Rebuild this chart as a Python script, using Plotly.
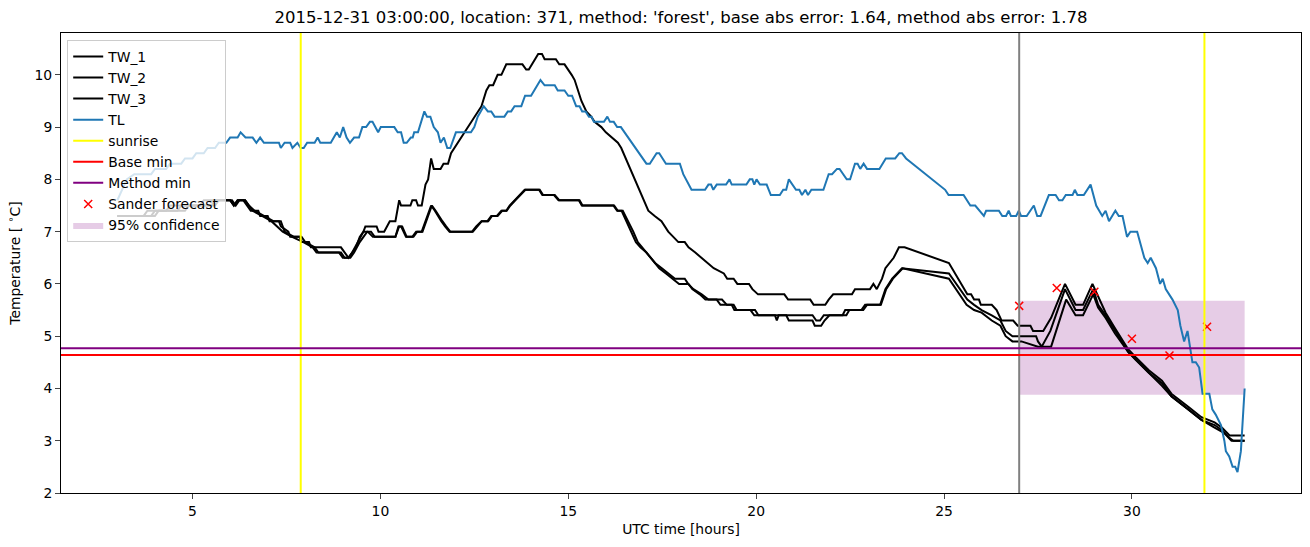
import plotly.graph_objects as go

# ---------------- data ----------------
TITLE = "2015-12-31 03:00:00, location: 371, method: 'forest', base abs error: 1.64, method abs error: 1.78"

TW1_HOURS = [3.0, 3.7, 3.8, 4.3, 4.4, 5.2, 5.3, 6.0, 6.1, 6.2, 6.35, 6.45, 6.55, 6.75, 6.8, 7.0, 7.05, 7.3, 7.35,
             7.55, 7.6, 7.85, 7.9, 8.1, 8.15, 8.95, 9.05, 9.15, 9.25, 9.35, 9.45, 9.55, 9.6, 9.9, 9.95, 10.1, 10.25,
             10.4, 10.5, 10.55, 10.8, 10.85, 10.95, 11.0, 11.1, 11.2, 11.27, 11.35, 11.42, 11.6, 11.68, 11.8, 11.88,
             11.97, 12.24, 12.51, 12.69, 12.82, 12.9, 13.0, 13.12, 13.22, 13.35, 13.78, 13.88, 13.95, 14.2, 14.3,
             14.37, 14.67, 14.76, 14.9, 15.0, 15.09, 15.17, 15.26, 15.35, 15.48, 15.61, 15.7, 15.88, 16.0, 16.15,
             16.32, 16.41, 16.59, 16.77, 16.95, 17.13, 17.3, 17.48, 17.66, 17.8, 17.93, 18.1, 18.2, 18.38, 18.55,
             18.69, 18.87, 19.14, 19.23, 19.4, 19.5, 19.81, 19.9, 20.05, 20.75, 20.85, 21.44, 21.53, 21.84, 21.93,
             22.05, 22.55, 22.63, 23.03, 23.12, 23.21, 23.35, 23.44, 23.66, 23.8, 23.95, 25.13, 25.53, 25.62, 25.72,
             25.8, 25.93, 25.98, 26.27, 26.4, 26.53, 26.84, 26.96, 27.3, 27.37, 27.64, 27.85, 28.07, 28.22, 28.5,
             28.7, 28.95, 29.1, 29.3, 29.55, 29.9, 30.1, 30.45, 30.8, 31.05, 31.5, 31.85, 32.2, 32.4, 32.6, 33.0]
TW1_VALUES = [7.3, 7.3, 7.4, 7.4, 7.5, 7.5, 7.6, 7.6, 7.5, 7.6, 7.6, 7.5, 7.4, 7.4, 7.3, 7.3, 7.2, 7.2, 7.1,
              7.0, 6.9, 6.9, 6.8, 6.8, 6.7, 6.7, 6.6, 6.5, 6.6, 6.7, 6.9, 7.0, 7.1, 7.1, 7.0, 7.0, 7.2,
              7.2, 7.6, 7.5, 7.5, 7.6, 7.6, 7.5, 7.5, 7.9, 8.0, 8.4, 8.2, 8.2, 8.3, 8.3, 8.5,
              8.6, 8.9, 9.2, 9.4, 9.7, 9.8, 9.8, 10.0, 10.0, 10.2, 10.2, 10.1, 10.1, 10.4, 10.4,
              10.3, 10.3, 10.2, 10.2, 10.1, 10.0, 9.9, 9.7, 9.5, 9.3, 9.2, 9.1, 9.0, 8.9, 8.8,
              8.7, 8.6, 8.3, 8.0, 7.7, 7.4, 7.3, 7.2, 7.0, 6.9, 6.8, 6.8, 6.7, 6.6, 6.5,
              6.4, 6.3, 6.2, 6.1, 6.1, 6.0, 6.0, 5.9, 5.8, 5.8, 5.7, 5.7, 5.6, 5.6, 5.7,
              5.8, 5.8, 5.9, 5.9, 6.0, 5.9, 6.1, 6.3, 6.5, 6.7, 6.7, 6.4, 5.9, 5.8, 5.8,
              5.7, 5.7, 5.6, 5.6, 5.5, 5.3, 5.3, 5.2, 5.2, 5.1, 5.1, 5.35, 5.75, 6.0, 5.6,
              5.6, 6.0, 5.75, 5.45, 5.15, 4.75, 4.6, 4.35, 4.15, 3.9, 3.65, 3.45, 3.35, 3.25, 3.1, 3.1]

TW2_HOURS = [3.0, 3.9, 4.0, 4.6, 4.7, 5.5, 5.6, 6.0, 6.1, 6.2, 6.4, 6.5, 6.6, 6.85, 7.1, 7.4, 7.65, 7.95, 8.2,
             8.3, 8.9, 9.0, 9.15, 9.25, 9.39, 9.55, 9.66, 9.8, 10.4, 10.48, 10.55, 10.68, 10.85, 10.95, 11.1, 11.2,
             11.35, 11.45, 11.53, 11.62, 11.72, 11.84, 12.44, 12.55, 12.69, 12.85, 12.95, 13.1, 13.22, 13.35, 13.44,
             13.57, 13.7, 13.84, 14.24, 14.33, 14.64, 14.76, 15.3, 15.38, 16.2, 16.3, 16.45, 16.6, 16.73, 16.85,
             16.96, 17.13, 17.31, 17.49, 17.66, 17.84, 18.1, 18.19, 18.33, 18.55, 18.73, 19.09, 19.22, 19.4, 19.48,
             19.97, 20.06, 21.5, 21.6, 21.7, 21.8, 22.3, 22.37, 22.8, 22.9, 23.3, 23.44, 23.62, 23.75, 23.88, 25.13,
             25.62, 25.8, 26.0, 26.27, 26.5, 26.64, 26.82, 27.06, 27.45, 27.5, 27.6, 27.83, 28.22, 28.5, 28.7,
             28.97, 29.1, 29.3, 29.55, 29.9, 30.1, 30.45, 30.8, 31.05, 31.5, 31.85, 32.2, 32.4, 32.6, 32.7, 33.0]
TW2_VALUES = [7.3, 7.3, 7.4, 7.4, 7.5, 7.5, 7.6, 7.6, 7.5, 7.6, 7.6, 7.5, 7.4, 7.3, 7.2, 7.0, 6.9, 6.8, 6.7,
              6.6, 6.6, 6.5, 6.5, 6.6, 6.8, 7.0, 7.0, 6.9, 6.9, 7.1, 7.1, 6.9, 6.9, 7.0, 7.0, 7.2,
              7.5, 7.4, 7.3, 7.2, 7.1, 7.0, 7.0, 7.1, 7.2, 7.2, 7.3, 7.3, 7.4, 7.4, 7.5,
              7.6, 7.7, 7.8, 7.8, 7.7, 7.7, 7.6, 7.6, 7.5, 7.5, 7.4, 7.4, 7.2, 7.0, 6.8,
              6.7, 6.55, 6.4, 6.3, 6.2, 6.1, 6.1, 6.0, 5.9, 5.8, 5.7, 5.7, 5.6, 5.6, 5.5,
              5.5, 5.4, 5.4, 5.3, 5.3, 5.4, 5.4, 5.5, 5.5, 5.6, 5.6, 5.9, 6.1, 6.2, 6.3, 6.2,
              5.7, 5.6, 5.5, 5.4, 5.3, 5.1, 5.0, 5.0, 5.0, 4.9, 4.8, 5.1, 5.9, 5.5, 5.5,
              5.9, 5.6, 5.4, 5.1, 4.7, 4.55, 4.3, 4.1, 3.85, 3.6, 3.4, 3.3, 3.2, 3.05, 3.0, 3.0]

TW3_HOURS = [3.0, 4.0, 4.1, 4.8, 4.9, 5.6, 5.7, 6.05, 6.15, 6.25, 6.4, 6.5, 6.65, 6.9, 7.15, 7.35, 7.45, 7.7, 7.9,
             8.0, 8.25, 8.35, 8.95, 9.05, 9.2, 9.3, 9.45, 9.55, 9.65, 9.75, 9.85, 10.4, 10.5, 10.58, 10.7, 10.88,
             10.98, 11.12, 11.22, 11.37, 11.47, 11.55, 11.65, 11.75, 11.86, 12.46, 12.57, 12.7, 12.87, 12.97, 13.12,
             13.24, 13.36, 13.46, 13.59, 13.72, 13.86, 14.22, 14.31, 14.62, 14.74, 15.28, 15.36, 16.22, 16.32, 16.42,
             16.55, 16.68, 16.8, 16.92, 17.08, 17.25, 17.42, 17.6, 17.78, 17.95, 18.2, 18.3, 18.5, 18.65, 18.95,
             19.05, 19.35, 19.42, 19.85, 19.95, 20.5, 20.55, 20.6, 20.8, 20.87, 21.5, 21.56, 21.73, 21.82, 21.95,
             22.4, 22.48, 22.85, 22.95, 23.32, 23.46, 23.64, 23.78, 23.9, 25.13, 25.6, 25.8, 26.0, 26.27, 26.5,
             26.64, 26.82, 27.06, 27.5, 27.85, 28.25, 28.5, 28.7, 28.97, 29.1, 29.3, 29.55, 29.9, 30.1, 30.45, 30.8,
             31.05, 31.5, 31.85, 32.2, 32.45, 32.65, 33.0]
TW3_VALUES = [7.3, 7.3, 7.4, 7.4, 7.5, 7.5, 7.6, 7.6, 7.5, 7.6, 7.6, 7.5, 7.4, 7.3, 7.2, 7.2, 7.0, 6.9, 6.9,
              6.8, 6.7, 6.6, 6.6, 6.5, 6.5, 6.6, 6.8, 6.9, 7.0, 7.0, 6.9, 6.9, 7.1, 7.1, 6.9, 6.9,
              7.0, 7.0, 7.2, 7.5, 7.4, 7.3, 7.2, 7.1, 7.0, 7.0, 7.1, 7.2, 7.2, 7.3, 7.3,
              7.4, 7.4, 7.5, 7.6, 7.7, 7.8, 7.8, 7.7, 7.7, 7.6, 7.6, 7.5, 7.5, 7.4, 7.4,
              7.2, 7.0, 6.8, 6.7, 6.6, 6.45, 6.3, 6.2, 6.1, 6.0, 6.0, 5.9, 5.8, 5.7, 5.7,
              5.6, 5.6, 5.5, 5.5, 5.4, 5.4, 5.3, 5.4, 5.4, 5.3, 5.3, 5.2, 5.2, 5.3, 5.4,
              5.4, 5.5, 5.5, 5.6, 5.6, 5.9, 6.1, 6.2, 6.3, 6.1, 5.6, 5.5, 5.45, 5.3, 5.2,
              5.0, 4.9, 4.9, 4.8, 4.8, 5.7, 5.4, 5.4, 5.8, 5.55, 5.35, 5.05, 4.7, 4.55, 4.3, 4.05,
              3.85, 3.6, 3.4, 3.25, 3.15, 3.0, 3.0]

TL_HOURS = [3.0, 3.25, 3.45, 3.9, 4.0, 4.3, 4.4, 4.7, 4.8, 5.0, 5.1, 5.3, 5.4, 5.6, 5.7, 5.9, 6.0,
            6.2, 6.28, 6.41, 6.6, 6.7, 6.8, 6.9, 7.3, 7.35, 7.45, 7.6, 7.66, 7.79, 7.88, 7.96, 8.05, 8.25, 8.33,
            8.4, 8.68, 8.84, 8.92, 9.01, 9.1, 9.19, 9.3, 9.43, 9.52, 9.62, 9.72, 9.79, 9.94, 10.01, 10.37, 10.46,
            10.55, 10.62, 10.7, 10.81, 10.86, 10.9, 11.0, 11.17, 11.24, 11.33, 11.42, 11.53, 11.6, 11.69, 11.78,
            11.86, 12.01, 12.41, 12.5, 12.59, 12.75, 12.86, 12.95, 13.04, 13.3, 13.39, 13.48, 13.57, 13.75, 13.85,
            14.01, 14.26, 14.37, 14.64, 14.72, 14.9, 15.0, 15.1, 15.21, 15.3, 15.37, 15.46, 15.55, 15.62, 15.68,
            15.95, 16.04, 16.11, 16.21, 16.3, 16.4, 17.08, 17.17, 17.35, 17.42, 17.6, 17.97, 18.06, 18.28, 18.64,
            18.73, 18.8, 18.86, 18.95, 19.2, 19.29, 19.35, 19.74, 19.83, 19.9, 19.95, 20.01, 20.1, 20.28, 20.39,
            20.63, 20.72, 20.8, 20.87, 20.97, 21.06, 21.15, 21.22, 21.31, 21.38, 21.47, 21.79, 21.93, 22.02, 22.15,
            22.22, 22.41, 22.5, 22.63, 22.7, 22.77, 22.86, 22.95, 23.28, 23.45, 23.7, 23.81, 23.88, 23.99, 25.03,
            25.12, 25.52, 25.7, 25.83, 26.06, 26.12, 26.46, 26.55, 26.65, 26.72, 26.78, 26.92, 26.99, 27.05, 27.2,
            27.39, 27.48, 27.57, 27.79, 27.97, 28.06, 28.15, 28.24, 28.42, 28.48, 28.55, 28.72, 28.9, 29.05, 29.21,
            29.3, 29.39, 29.56, 29.65, 29.75, 29.87, 29.96, 30.14, 30.33, 30.42, 30.5, 30.64, 30.75, 30.82, 30.9,
            31.08, 31.22, 31.29, 31.39, 31.48, 31.61, 31.7, 31.79, 31.88, 32.06, 32.14, 32.23, 32.37, 32.46, 32.5,
            32.59, 32.68, 32.75, 32.81, 32.9, 33.0]
TL_VALUES = [7.6, 8.0, 8.1, 8.1, 8.2, 8.2, 8.3, 8.3, 8.4, 8.4, 8.5, 8.5, 8.6, 8.6, 8.7, 8.7, 8.8,
             8.8, 8.9, 8.8, 8.8, 8.7, 8.8, 8.7, 8.7, 8.6, 8.7, 8.7, 8.6, 8.7, 8.6, 8.6, 8.7, 8.7, 8.8,
             8.7, 8.7, 8.9, 8.8, 9.0, 8.8, 8.7, 8.8, 8.8, 9.0, 9.0, 9.1, 9.1, 8.9, 9.0, 9.0, 8.9,
             8.9, 8.7, 8.7, 8.8, 8.8, 8.9, 8.9, 9.3, 9.2, 9.2, 9.0, 8.9, 8.7, 8.8, 8.6,
             8.6, 8.9, 8.9, 9.0, 9.2, 9.4, 9.3, 9.3, 9.2, 9.2, 9.3, 9.3, 9.4, 9.4, 9.6,
             9.6, 9.9, 9.8, 9.8, 9.7, 9.7, 9.6, 9.6, 9.4, 9.4, 9.3, 9.3, 9.2, 9.2, 9.1,
             9.1, 9.2, 9.1, 9.1, 9.0, 9.0, 8.3, 8.3, 8.5, 8.5, 8.3, 8.3, 8.1, 7.8, 7.8,
             7.9, 7.9, 7.8, 7.9, 7.9, 8.0, 7.9, 7.9, 8.0, 8.0, 7.9, 8.0, 7.9, 7.9, 7.7,
             7.7, 7.8, 7.8, 8.0, 7.9, 7.8, 7.8, 7.7, 7.8, 7.7, 7.8, 7.8, 8.1, 8.1, 8.2,
             8.2, 8.0, 8.0, 8.3, 8.3, 8.2, 8.3, 8.2, 8.2, 8.4, 8.4, 8.5, 8.5, 8.4, 7.8,
             7.7, 7.7, 7.5, 7.5, 7.3, 7.4, 7.4, 7.3, 7.3, 7.4, 7.3, 7.3, 7.4, 7.3, 7.3,
             7.5, 7.3, 7.3, 7.7, 7.7, 7.6, 7.6, 7.7, 7.7, 7.8, 7.7, 7.7, 7.9, 7.5, 7.3,
             7.4, 7.2, 7.4, 7.3, 7.3, 6.9, 7.0, 7.0, 6.5, 6.4, 6.5, 6.3, 6.0, 6.1, 5.9,
             5.7, 5.5, 5.2, 4.9, 5.1, 4.5, 4.5, 4.4, 3.9, 3.9, 3.6, 3.5, 3.3, 3.0, 2.8,
             2.7, 2.5, 2.5, 2.4, 2.8, 4.0]

SUNRISE_HOURS = [7.88, 31.93]
FORECAST_TIME = 27.0
BASE_MIN = 4.64
METHOD_MIN = 4.77
SANDER_HOURS = [27, 28, 29, 30, 31, 32]
SANDER_VALUES = [5.58, 5.92, 5.85, 4.95, 4.63, 5.18]
CONF_START, CONF_END = 27.0, 33.0
CONF_LOW, CONF_HIGH = 3.88, 5.68

X_TICKS = [5, 10, 15, 20, 25, 30]
Y_TICKS = [2, 3, 4, 5, 6, 7, 8, 9, 10]
X_RANGE = [1.5, 34.5]
Y_RANGE = [2.0, 10.8]

# ---------------- figure ----------------
FONT = "DejaVu Sans"
fig = go.Figure()

# confidence band (drawn first, listed last)
fig.add_trace(go.Scatter(
    x=[CONF_START, CONF_END, CONF_END, CONF_START, CONF_START],
    y=[CONF_LOW, CONF_LOW, CONF_HIGH, CONF_HIGH, CONF_LOW],
    mode="lines", fill="toself", fillcolor="rgba(128,0,128,0.2)",
    line=dict(width=0, color="rgba(128,0,128,0)"),
    name="95% confidence", legendrank=9, hoverinfo="skip"))

for i, (hx, vy) in enumerate([(TW1_HOURS, TW1_VALUES), (TW2_HOURS, TW2_VALUES), (TW3_HOURS, TW3_VALUES)]):
    fig.add_trace(go.Scatter(x=hx, y=vy, mode="lines", name=f"TW_{i+1}",
                             line=dict(color="black", width=2), legendrank=i + 1))

fig.add_trace(go.Scatter(x=TL_HOURS, y=TL_VALUES, mode="lines", name="TL",
                         line=dict(color="#1f77b4", width=2), legendrank=4))

fig.add_trace(go.Scatter(x=SANDER_HOURS, y=SANDER_VALUES, mode="markers", name="Sander forecast",
                         marker=dict(symbol="x-thin", size=8, color="red",
                                     line=dict(color="red", width=1.5)),
                         legendrank=8))

# vertical / horizontal reference lines
for j, s in enumerate(SUNRISE_HOURS):
    fig.add_shape(type="line", xref="x", yref="paper", x0=s, x1=s, y0=0, y1=1,
                  line=dict(color="#ffff00", width=2), layer="above",
                  name="sunrise", showlegend=(j == 0), legendrank=5)
fig.add_shape(type="line", xref="x", yref="paper", x0=FORECAST_TIME, x1=FORECAST_TIME, y0=0, y1=1,
              line=dict(color="gray", width=2), layer="above")
fig.add_shape(type="line", xref="paper", yref="y", x0=0, x1=1, y0=BASE_MIN, y1=BASE_MIN,
              line=dict(color="red", width=2), layer="above",
              name="Base min", showlegend=True, legendrank=6)
fig.add_shape(type="line", xref="paper", yref="y", x0=0, x1=1, y0=METHOD_MIN, y1=METHOD_MIN,
              line=dict(color="#800080", width=2), layer="above",
              name="Method min", showlegend=True, legendrank=7)

fig.update_layout(
    width=1310, height=547,
    margin=dict(l=61, r=9, t=33, b=54),
    paper_bgcolor="white", plot_bgcolor="white",
    font=dict(family=FONT, size=13.9, color="black"),
    title=dict(text=TITLE, x=0.5, xref="paper", xanchor="center",
               y=1 - 17 / 547, yref="container", yanchor="middle",
               font=dict(family=FONT, size=16.5, color="black")),
    showlegend=True,
    legend=dict(x=0.005, y=0.985, xanchor="left", yanchor="top",
                bgcolor="rgba(255,255,255,0.8)", bordercolor="#cccccc", borderwidth=1,
                font=dict(family=FONT, size=13.9), tracegroupgap=0,
                itemwidth=30),
)
fig.update_xaxes(range=X_RANGE, tickvals=X_TICKS, ticks="outside", ticklen=5, tickwidth=1,
                 showline=True, mirror=True, linecolor="black", linewidth=1,
                 showgrid=False, zeroline=False,
                 title=dict(text="UTC time [hours]", standoff=6, font=dict(size=13.9)))
fig.update_yaxes(range=Y_RANGE, tickvals=Y_TICKS, ticks="outside", ticklen=5, tickwidth=1,
                 showline=True, mirror=True, linecolor="black", linewidth=1,
                 showgrid=False, zeroline=False,
                 title=dict(text="Temperature [ <sup>∘</sup>C]", standoff=10, font=dict(size=13.9)))

fig.write_html("out.html")
